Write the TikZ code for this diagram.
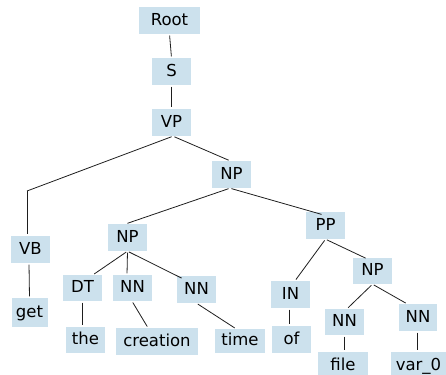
\documentclass[tikz,border=0pt]{standalone}
\usepackage{fontspec}
\setmainfont{DejaVu Sans}
\definecolor{boxblue}{RGB}{204,225,237}
\definecolor{edgecol}{RGB}{30,30,30}
\begin{document}
\begin{tikzpicture}[x=1pt,y=-1pt,
  tag/.style={fill=boxblue, inner sep=0pt, minimum width=39pt, minimum height=27pt,
    text height=12pt, text depth=2.7pt, font=\fontsize{16.5}{18}\selectfont},
  edge/.style={draw=edgecol, line width=0.8pt, shorten <=1.5pt, shorten >=1.5pt}]
\useasboundingbox (0,0) rectangle (446,374);
\begin{scope}
\clip (0,0) rectangle (446,374);
\node[tag, minimum width=61pt] (root) at (169.5,20.5) {Root};
\node[tag] (s) at (171.5,71.5) {S};
\node[tag] (vp) at (171.5,122.5) {VP};
\node[tag] (np1) at (231.5,174.5) {NP};
\node[tag] (vb) at (30.5,249.5) {VB};
\node[tag] (np2) at (127.5,237.5) {NP};
\node[tag] (pp) at (325.5,225.5) {PP};
\node[tag, minimum height=26pt] (dt) at (82.5,288) {DT};
\node[tag, minimum height=26pt] (nn1) at (132.5,288) {NN};
\node[tag] (nn2) at (196.5,289.5) {NN};
\node[tag] (in) at (290.5,294.5) {IN};
\node[tag, minimum height=26pt] (np3) at (372.5,271) {NP};
\node[tag, minimum height=26pt] (nn3) at (344.5,322) {NN};
\node[tag, minimum width=38pt] (nn4) at (418,317.5) {NN};
\node[tag, minimum width=36pt, minimum height=29pt] (get) at (29.5,312.5) {get};
\node[tag, minimum height=26pt] (the) at (85.5,340) {the};
\node[tag, minimum width=82pt] (creation) at (157,341.5) {creation};
\node[tag, minimum width=50pt, minimum height=24pt] (time) at (240,341) {time};
\node[tag] (of) at (291.5,339.5) {of};
\node[tag, minimum width=50pt] (file) at (343,365.5) {file};
\node[tag, minimum width=55pt] (var) at (418.5,365.5) {var\_0};
\coordinate (vbbend) at (27,191);
\draw[edge] (root.south) -- (s.north);
\draw[edge] (s.south) -- (vp.north);
\draw[edge, shorten >=0pt] ([xshift=1.5pt]vp.south) -- (vbbend);
\draw[edge, shorten <=0pt] (vbbend) -- ([xshift=-3.5pt]vb.north);
\draw[edge] ([xshift=1.5pt]vp.south) -- ([xshift=-1.5pt]np1.north);
\draw[edge] ([xshift=-1.5pt]np1.south) -- ([xshift=-1.5pt]np2.north);
\draw[edge] ([xshift=-1.5pt]np1.south) -- ([xshift=-2.5pt,yshift=-3pt]pp.north);
\draw[edge] (np2.south) -- ([xshift=10.5pt]dt.north);
\draw[edge] (np2.south) -- ([xshift=-5.5pt]nn1.north);
\draw[edge] (np2.south) -- ([xshift=-13.5pt,yshift=-3pt]nn2.north);
\draw[edge] ([xshift=-0.5pt]dt.south) -- ([xshift=-3.5pt]the.north);
\draw[edge] ([xshift=-0.5pt]nn1.south) -- ([xshift=-9pt]creation.north);
\draw[edge] (nn2.south) -- ([xshift=-4pt]time.north);
\draw[edge] (pp.south) -- ([xshift=4.5pt]in.north);
\draw[edge] (pp.south) -- ([xshift=-5.5pt,yshift=-1pt]np3.north);
\draw[edge] ([xshift=-1.5pt]in.south) -- ([xshift=-2.5pt]of.north);
\draw[edge] (np3.south) -- ([xshift=2.5pt]nn3.north);
\draw[edge] (np3.south) -- ([xshift=-11pt]nn4.north);
\draw[edge] ([xshift=-0.5pt]nn3.south) -- ([xshift=1pt]file.north);
\draw[edge] ([xshift=-1pt]nn4.south) -- ([xshift=-1.5pt]var.north);
\draw[edge] ([xshift=-1.5pt]vb.south) -- (get.north);
\end{scope}
\end{tikzpicture}
\end{document}
